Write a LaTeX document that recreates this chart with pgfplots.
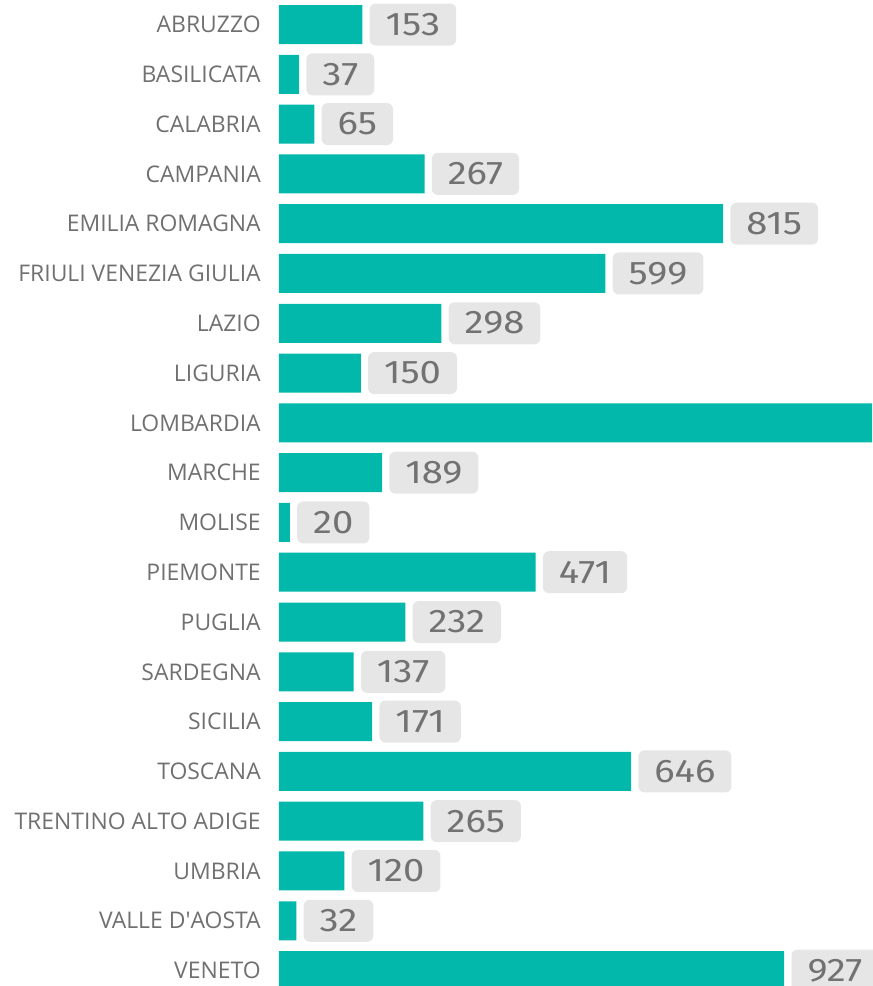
\documentclass[border=0pt]{standalone}
\usepackage{pgfplots}
\pgfplotsset{compat=1.18}
\usepackage{fontspec}
\setmainfont{Open Sans}
\newfontfamily\numfont[FakeStretch=1.17]{Fira Sans}
\definecolor{barteal}{HTML}{01B8AA}
\definecolor{boxgray}{HTML}{E6E6E6}
\definecolor{numgray}{HTML}{727272}
\definecolor{labgray}{HTML}{707070}
\begin{document}
\begin{tikzpicture}
\begin{axis}[
  at={(0,0)}, anchor=south west,
  scale only axis,
  width=444.75pt, height=739.5pt,
  xbar, bar width=29.25pt,
  xmin=0, xmax=1088,
  ymin=-0.492, ymax=19.31,
  y dir=reverse,
  axis line style={draw=none},
  tick style={draw=none},
  xtick=\empty,
  clip=true,
  /pgf/number format/assume math mode=true,
  ytick={0,...,19},
  yticklabels={ABRUZZO,BASILICATA,CALABRIA,CAMPANIA,EMILIA ROMAGNA,FRIULI VENEZIA GIULIA,LAZIO,LIGURIA,LOMBARDIA,MARCHE,MOLISE,PIEMONTE,PUGLIA,SARDEGNA,SICILIA,TOSCANA,TRENTINO ALTO ADIGE,UMBRIA,{VALLE D\textquotesingle AOSTA},VENETO},
  major tick length=0pt,
  yticklabel style={anchor=east, inner sep=0pt, xshift=-13.5pt, font=\fontsize{17.2pt}{19pt}\selectfont, text=labgray},
  nodes near coords,
  nodes near coords style={anchor=west, xshift=5.25pt, fill=boxgray, rounded corners=4.5pt, text=numgray, inner xsep=12pt, inner ysep=0pt, minimum height=31.5pt, font=\numfont\fontsize{24.5pt}{26pt}\selectfont},
]
\addplot[draw=none, fill=barteal] coordinates {
(153,0) (37,1) (65,2) (267,3) (815,4) (599,5) (298,6) (150,7) (1500,8) (189,9)
(20,10) (471,11) (232,12) (137,13) (171,14) (646,15) (265,16) (120,17) (32,18) (927,19)
};
\end{axis}
\pgfresetboundingbox
\useasboundingbox (-209.25pt,0) rectangle (444.75pt,739.5pt);
\end{tikzpicture}
\end{document}
